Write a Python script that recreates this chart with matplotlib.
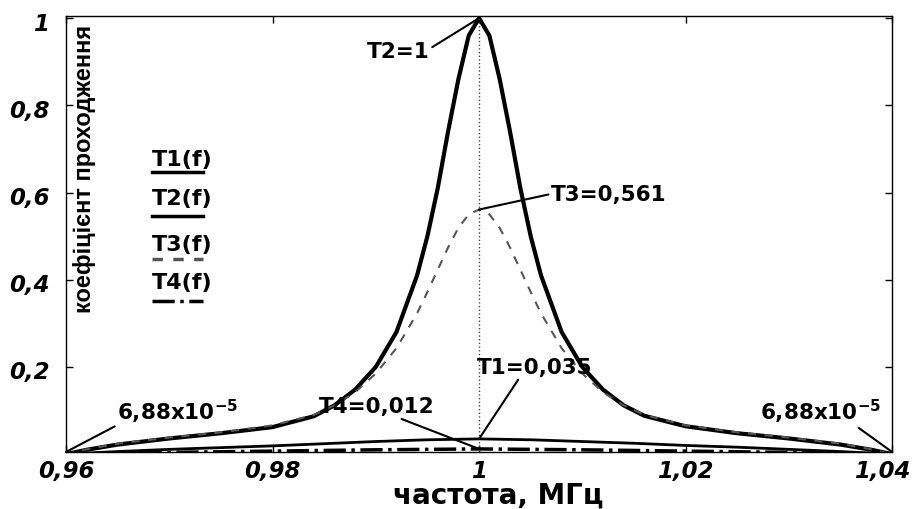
import matplotlib
matplotlib.use("Agg")
import matplotlib.pyplot as plt
from matplotlib.transforms import ScaledTranslation

plt.rcParams['font.family'] = ['DejaVu Sans']
plt.rcParams['mathtext.default'] = 'bf'

# frequency grid, MHz
freq_t2 = [0.960, 0.962, 0.965, 0.970, 0.975, 0.980, 0.984, 0.986, 0.988, 0.990,
           0.992, 0.994, 0.995, 0.996, 0.997, 0.998, 0.999, 1.000, 1.001, 1.002,
           1.003, 1.004, 1.005, 1.006, 1.008, 1.010, 1.012, 1.014, 1.016, 1.020,
           1.025, 1.030, 1.035, 1.038, 1.040]
t2_vals = [0.0001, 0.010, 0.022, 0.036, 0.048, 0.062, 0.087, 0.112, 0.148, 0.20,
           0.28, 0.41, 0.50, 0.61, 0.74, 0.86, 0.96, 1.0, 0.96, 0.86,
           0.74, 0.61, 0.50, 0.41, 0.28, 0.20, 0.148, 0.112, 0.088, 0.064,
           0.048, 0.036, 0.022, 0.010, 0.0001]

freq_t3 = [0.960, 0.962, 0.965, 0.970, 0.975, 0.980, 0.984, 0.986, 0.988, 0.990,
           0.992, 0.994, 0.995, 0.996, 0.997, 0.998, 0.999, 1.000, 1.001, 1.002,
           1.003, 1.004, 1.005, 1.006, 1.008, 1.010, 1.012, 1.014, 1.016, 1.020,
           1.025, 1.030, 1.035, 1.038, 1.040]
t3_vals = [0.0001, 0.011, 0.024, 0.038, 0.050, 0.066, 0.090, 0.112, 0.142, 0.185,
           0.243, 0.323, 0.372, 0.423, 0.474, 0.519, 0.550, 0.561, 0.550, 0.519,
           0.474, 0.423, 0.372, 0.323, 0.243, 0.185, 0.142, 0.112, 0.090, 0.066,
           0.050, 0.038, 0.024, 0.011, 0.0001]

freq_t1 = [0.960, 0.965, 0.970, 0.975, 0.980, 0.985, 0.990, 0.995, 1.000,
           1.005, 1.010, 1.015, 1.020, 1.025, 1.030, 1.035, 1.040]
t1_vals = [0.0001, 0.006, 0.011, 0.015, 0.019, 0.024, 0.029, 0.033, 0.035,
           0.033, 0.029, 0.025, 0.020, 0.016, 0.011, 0.006, 0.0001]

freq_t4 = [0.960, 0.970, 0.980, 0.990, 1.000, 1.010, 1.020, 1.030, 1.040]
t4_vals = [0.0001, 0.004, 0.007, 0.010, 0.012, 0.010, 0.007, 0.004, 0.0001]

x_ticks = [0.96, 0.98, 1.00, 1.02, 1.04]
x_ticklabels = ['0,96', '0,98', '1', '1,02', '1,04']
y_ticks = [0.2, 0.4, 0.6, 0.8, 1.0]
y_ticklabels = ['0,2', '0,4', '0,6', '0,8', '1']

fig = plt.figure(figsize=(9.15, 5.10), dpi=100)
ax = fig.add_axes([0.0721, 0.1118, 0.9029, 0.8549])

ax.plot(freq_t1, t1_vals, color='black', lw=2.0)
ax.plot(freq_t2, t2_vals, color='black', lw=3.0)
ax.plot(freq_t3, t3_vals, color='#555555', lw=1.5, linestyle=(0, (4, 4)))
ax.plot(freq_t4, t4_vals, color='black', lw=2.5, linestyle='-.')
ax.plot([1.0, 1.0], [0.0, 1.0], color='#444444', lw=1.0, linestyle=':')

ax.set_xlim(0.96, 1.04)
ax.set_ylim(0.005, 1.005)
ax.set_xticks(x_ticks)
ax.set_xticklabels(x_ticklabels)
ax.set_yticks(y_ticks)
ax.set_yticklabels(y_ticklabels)
ax.tick_params(direction='in', length=5, width=1, top=True, right=True,
               labelsize=16.5)
ax.tick_params(axis='x', pad=5)
ax.tick_params(axis='y', pad=12)
for lbl in ax.get_xticklabels() + ax.get_yticklabels():
    lbl.set_fontweight('bold')
    lbl.set_fontstyle('italic')
for lbl in ax.get_yticklabels():
    lbl.set_va('center')
    lbl.set_transform(lbl.get_transform() +
                      ScaledTranslation(0, -0.05, fig.dpi_scale_trans))
last = ax.get_xticklabels()[-1]
last.set_transform(last.get_transform() +
                   ScaledTranslation(-0.10, 0, fig.dpi_scale_trans))
for sp in ax.spines.values():
    sp.set_linewidth(1.0)

fig.text(0.544, 0.029, 'частота, МГц', fontsize=20, fontweight='bold',
         ha='center', va='center')
ax.text(0.023, 0.651, 'коефіцієнт проходження', transform=ax.transAxes,
        rotation=90, fontsize=17, fontweight='bold', ha='center', va='center',
        family='Liberation Sans')

# legend-like labels
leg_items = [('T1(f)', 0.672, 0.642, '-', 'black'),
             ('T2(f)', 0.583, 0.541, '-', 'black'),
             ('T3(f)', 0.477, 0.443, (0, (3, 3)), '#555555'),
             ('T4(f)', 0.390, 0.346, '-.', 'black')]
for lbl, ty, ly, ls, c in leg_items:
    ax.text(0.104, ty, lbl, transform=ax.transAxes, fontsize=16,
            fontweight='bold', ha='left', va='center')
    ax.plot([0.104, 0.166], [ly, ly], transform=ax.transAxes, color=c,
            lw=2.5, linestyle=ls)

ann_kw = dict(fontsize=15.5, fontweight='bold', ha='center', va='center')


def line_kw(rx, ry):
    return dict(arrowstyle='-', color='black', lw=1.5, shrinkA=0, shrinkB=0,
                relpos=(rx, ry))


ax.annotate('T2=1', xy=(1.0, 1.0), xytext=(0.99216, 0.925),
            arrowprops=line_kw(1.0, 0.6), **ann_kw)
ax.annotate('T3=0,561', xy=(1.0, 0.561), xytext=(1.01259, 0.597),
            arrowprops=line_kw(0.0, 0.5), **ann_kw)
ax.annotate('T1=0,035', xy=(1.0, 0.035), xytext=(1.00542, 0.200),
            arrowprops=line_kw(0.37, 0.0), **ann_kw)
ax.annotate('T4=0,012', xy=(1.0, 0.012), xytext=(0.99012, 0.110),
            arrowprops=line_kw(0.65, 0.0), **ann_kw)
ax.annotate('6,88x10$^{-5}$', xy=(0.96, 0.005), xytext=(0.97085, 0.099),
            arrowprops=line_kw(0.02, 0.05), **ann_kw)
ax.annotate('6,88x10$^{-5}$', xy=(1.04, 0.005), xytext=(1.03303, 0.099),
            arrowprops=line_kw(0.77, 0.05), **ann_kw)

fig.savefig('out.png', dpi=100)
